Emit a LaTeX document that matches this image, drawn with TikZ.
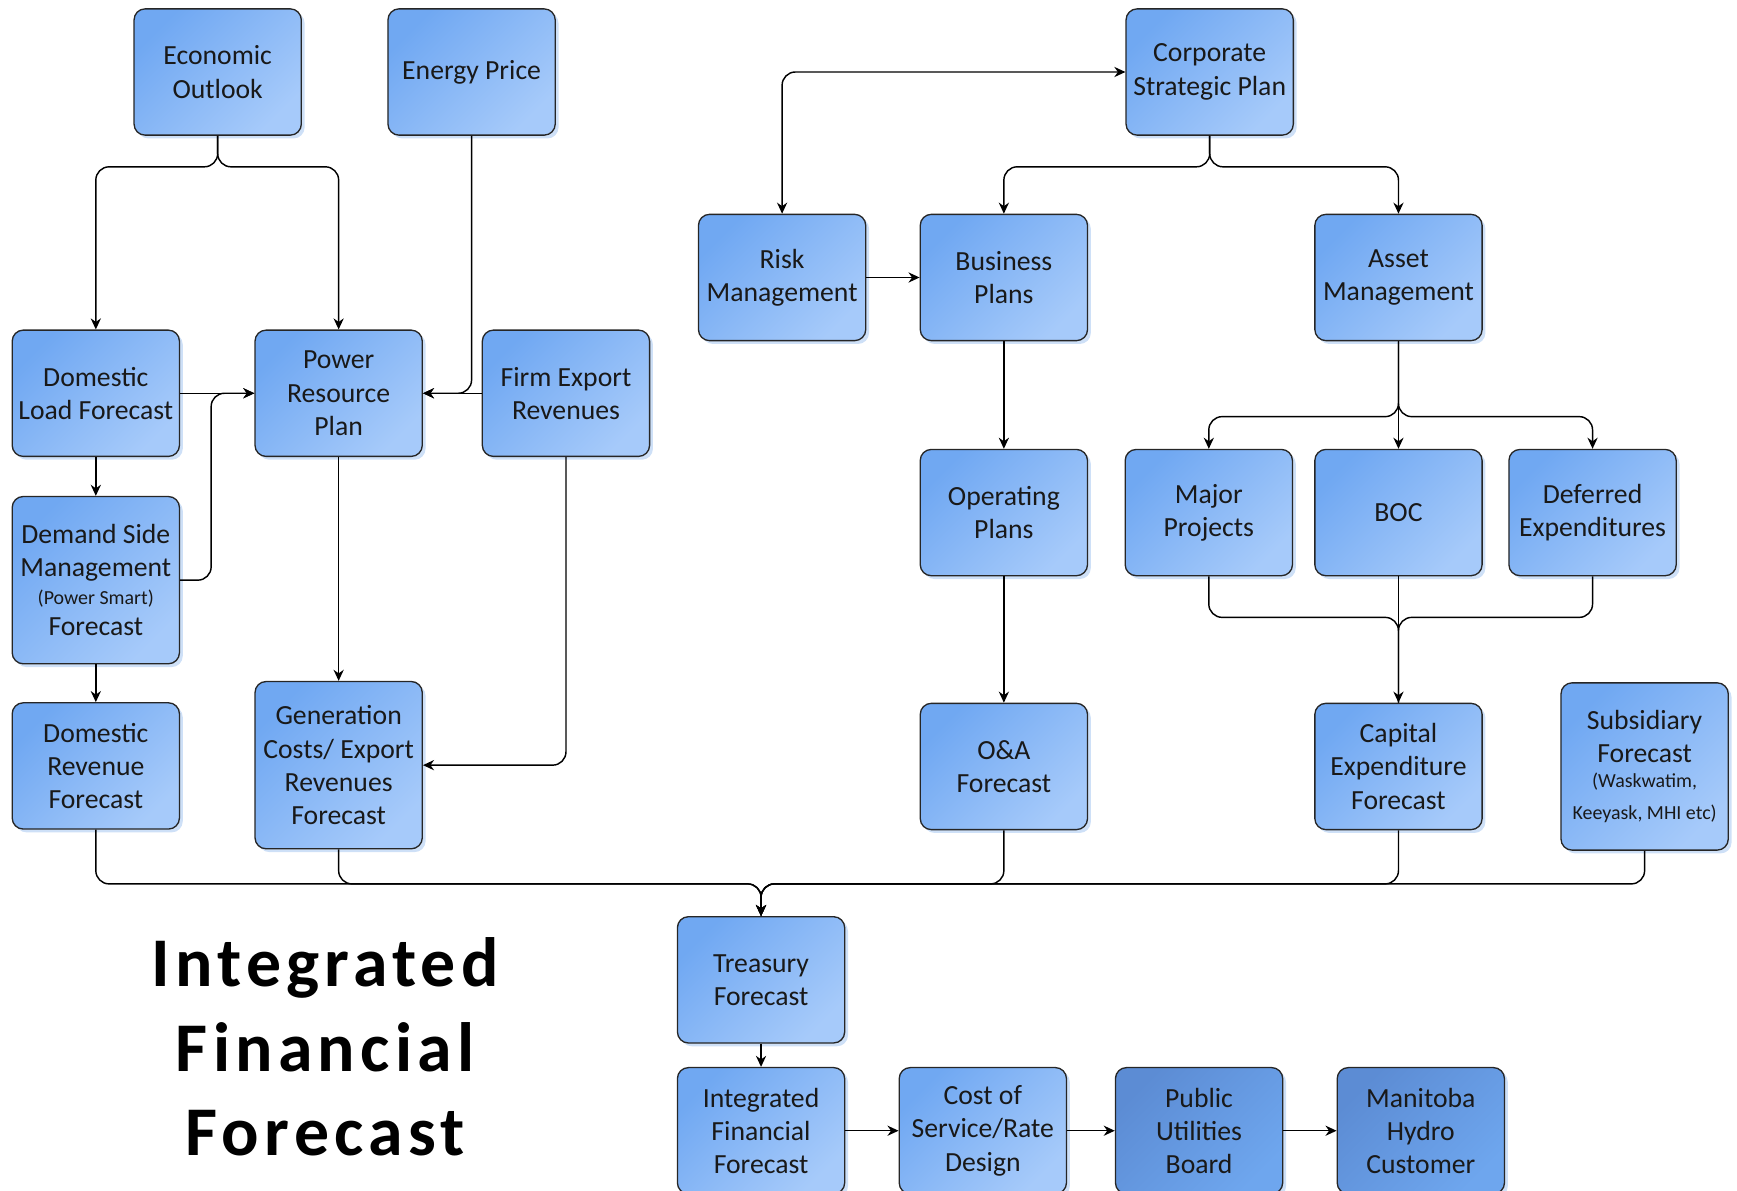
\documentclass[tikz,border=0pt]{standalone}
\usepackage{fontspec}
\setmainfont{Carlito}
\newfontfamily\ttlfont[LetterSpace=7.5]{Carlito}
\usetikzlibrary{positioning,arrows.meta,shadows}
\definecolor{boxtop}{RGB}{112,168,242}
\definecolor{boxbot}{RGB}{166,202,250}
\definecolor{darktop}{RGB}{92,140,212}
\definecolor{darkbot}{RGB}{110,166,238}
\definecolor{boxshd}{RGB}{206,224,247}
\newcommand\sml{\fontsize{9}{12}\selectfont}

\begin{document}
\begin{tikzpicture}[
  x=0.5pt,y=-0.5pt,
  font=\fontsize{12.5}{15}\selectfont,
  b/.style={draw=black!85,line width=0.6pt,rounded corners=5pt,align=center,
    minimum width=75.5pt,minimum height=57pt,inner sep=1pt,text=black!90,
    top color=boxtop,bottom color=boxbot,shading angle=45,
    drop shadow={shadow xshift=1.5pt,shadow yshift=-1.5pt,fill=boxshd,opacity=1}},
  bt/.style={b,minimum height=75.5pt},
  d/.style={b,top color=darktop,bottom color=darkbot,shading angle=45},
  a/.style={-{Stealth[length=5pt,width=4.6pt]},line width=0.65pt,rounded corners=6pt},
  aa/.style={a,{Stealth[length=5pt,width=4.6pt]}-{Stealth[length=5pt,width=4.6pt]}},
  ln/.style={line width=0.65pt,rounded corners=6pt},
  ttl/.style={align=center,font=\ttlfont\bfseries\fontsize{31.5}{38}\selectfont},
]
  \useasboundingbox (0,0) rectangle (1568,1075);

  % left column group
  \node[b] (eco) at (196.5,65) {Economic\\Outlook};
  \node[b,right=38.5pt of eco] (enp) {Energy Price};
  \node[b] (dlf) at (86.5,355) {Domestic\\Load Forecast};
  \node[b,right=33.5pt of dlf] (prp) {Power\\Resource\\Plan};
  \node[b,right=26.5pt of prp] (fer) {Firm Export\\Revenues};
  \node[bt,below=17.5pt of dlf] (dsm) {Demand Side\\Management\\[-2.5pt]{\sml (Power Smart)}\\[-1pt]Forecast};
  \node[b,below=17pt of dsm] (drf) {Domestic\\Revenue\\Forecast};
  \node[bt,below=101pt of prp] (gen) {Generation\\Costs/ Export\\Revenues\\Forecast};

  % corporate planning group
  \node[b] (csp) at (1092,65) {Corporate\\Strategic Plan};
  \node[b] (risk) at (706,250.5) {Risk\\Management};
  \node[b,right=24pt of risk] (bus) {Business\\Plans};
  \node[b,right=102pt of bus] (asset) {Asset\\Management};
  \node[b,below=48.5pt of bus] (op) {Operating\\Plans};
  \node[b,below=48.5pt of asset] (boc) {BOC};
  \node[b,left=9.5pt of boc] (major) {Major\\Projects};
  \node[b,right=11.5pt of boc] (def) {Deferred\\Expenditures};
  \node[b,below=57pt of op] (oa) {O\&A\\Forecast};
  \node[b,below=57pt of boc] (cap) {Capital\\Expenditure\\Forecast};
  \node[bt,right=35pt of cap] (sub) {Subsidiary\\Forecast\\[-3.5pt]{\sml (Waskwatim,}\\[-0.5pt]{\sml Keeyask, MHI etc)}};

  % forecast chain
  \node[b] (tre) at (687,884.5) {Treasury\\Forecast};
  \node[b,below=10.5pt of tre] (iff) {Integrated\\Financial\\Forecast};
  \node[b,right=24pt of iff] (cos) {Cost of\\Service/Rate\\Design};
  \node[d,right=21.5pt of cos] (pub) {Public\\Utilities\\Board};
  \node[d,right=24pt of pub] (mhc) {Manitoba\\Hydro\\Customer};

  \node[ttl] (title) at (293.5,945) {Integrated\\Financial\\Forecast};

  \coordinate[below=14pt of eco.south] (ecoj);
  \coordinate[below=14pt of csp.south] (cspj);
  \coordinate[below=34pt of asset.south] (assetj);
  \coordinate[above=38.5pt of cap.north] (capj);
  \coordinate[above=14.5pt of tre.north] (trej);

  \draw[a] (eco.south) -- (ecoj) -| (dlf.north);
  \draw[a] (eco.south) -- (ecoj) -| (prp.north);
  \draw[a] (enp.south) |- (prp.east);
  \draw[a] (fer.west) -- (prp.east);
  \draw[a] (dlf.east) -- (prp.west);
  \draw[a] (dsm.east) -- ++(14pt,0) |- (prp.west);
  \draw[a] (dlf) -- (dsm); \draw[a] (dsm) -- (drf);
  \draw[a] (prp) -- (gen);
  \draw[a] (fer.south) |- (gen.east);

  \draw[a] (csp.south) -- (cspj) -| (bus.north);
  \draw[a] (csp.south) -- (cspj) -| (asset.north);
  \draw[aa] (risk.north) |- (csp.west);
  \draw[a] (risk) -- (bus);
  \draw[a] (bus) -- (op);
  \draw[a] (asset.south) -- (assetj) -| (major.north);
  \draw[a] (asset.south) -- (assetj) -| (def.north);
  \draw[a] (asset) -- (boc);
  \draw[a] (op) -- (oa);
  \draw[ln] (major.south) |- (capj) -- (cap.north);
  \draw[ln] (def.south) |- (capj) -- (cap.north);
  \draw[a] (boc) -- (cap);

  \foreach \src in {drf,gen,oa,cap,sub}
    \draw[a] (\src.south) |- (trej) -- (tre.north);
  \draw[a] (tre) -- (iff);
  \draw[a] (iff) -- (cos); \draw[a] (cos) -- (pub); \draw[a] (pub) -- (mhc);
\end{tikzpicture}
\end{document}
